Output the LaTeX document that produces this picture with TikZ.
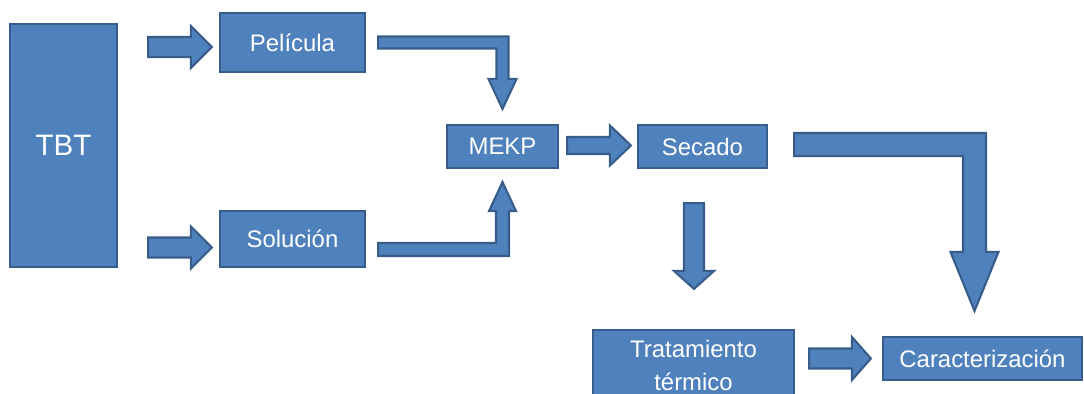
\documentclass[tikz,border=0pt]{standalone}
\usepackage{fontspec}
\setmainfont{Liberation Sans}
\usetikzlibrary{calc}

\definecolor{boxfill}{HTML}{4F81BD}
\definecolor{boxline}{HTML}{385D8A}

% straight block arrow: start, tip, shaft half width, head half width, head length (px)
\newcommand{\blockarrow}[5]{%
  \filldraw[barrow] let \p1=(#1), \p2=(#2),
      \n1={veclen(\x2-\x1,\y2-\y1)}, \n2={(\x2-\x1)/\n1}, \n3={(\y2-\y1)/\n1},
      \n4={#3*0.025cm}, \n5={#4*0.025cm}, \n6={#5*0.025cm} in
    ({\x1-\n3*\n4},{\y1+\n2*\n4}) --
    ({\x2-\n2*\n6-\n3*\n4},{\y2-\n3*\n6+\n2*\n4}) --
    ({\x2-\n2*\n6-\n3*\n5},{\y2-\n3*\n6+\n2*\n5}) --
    (\x2,\y2) --
    ({\x2-\n2*\n6+\n3*\n5},{\y2-\n3*\n6-\n2*\n5}) --
    ({\x2-\n2*\n6+\n3*\n4},{\y2-\n3*\n6-\n2*\n4}) --
    ({\x1+\n3*\n4},{\y1-\n2*\n4}) -- cycle;}

% bent block arrow: right from start, then up or down to tip
\newcommand{\bentarrow}[5]{%
  \filldraw[barrow] let \p1=(#1), \p2=(#2),
      \n1={sign(\y2-\y1)},
      \n4={#3*0.025cm}, \n5={#4*0.025cm}, \n6={#5*0.025cm} in
    (\x1,{\y1-\n1*\n4}) -- ({\x2+\n4},{\y1-\n1*\n4}) --
    ({\x2+\n4},{\y2-\n1*\n6}) -- ({\x2+\n5},{\y2-\n1*\n6}) --
    (\x2,\y2) --
    ({\x2-\n5},{\y2-\n1*\n6}) -- ({\x2-\n4},{\y2-\n1*\n6}) --
    ({\x2-\n4},{\y1+\n1*\n4}) -- (\x1,{\y1+\n1*\n4}) -- cycle;}

\begin{document}
\begin{tikzpicture}[x=0.025cm,y=-0.025cm,
    box/.style={draw=boxline,fill=boxfill,line width=1.5pt,text=white,
      inner sep=2pt,font=\fontsize{17}{23.5}\selectfont},
    barrow/.style={draw=boxline,fill=boxfill,line width=1.5pt,line join=miter}]
  \useasboundingbox (0,0) rectangle (1084,394);

  \node[box,minimum width=2.675cm,minimum height=6.075cm,
        font=\fontsize{21}{25}\selectfont] (tbt) at (63.5,145.5) {TBT};
  \node[box,minimum width=3.625cm,minimum height=1.475cm] (pel) at (292.5,42.5) {Película};
  \node[box,minimum width=3.625cm,minimum height=1.4cm] (sol) at (292.5,239) {Solución};
  \node[box,minimum width=2.775cm,minimum height=1.075cm] (mekp) at (502.5,146.5) {MEKP};
  \node[box,minimum width=3.225cm,minimum height=1.075cm] (sec) at (702.5,146.5) {Secado};
  \node[box,minimum width=5.025cm,minimum height=1.75cm,align=center]
        (trat) at (693.5,365) {Tratamiento\\térmico};
  \node[box,minimum width=4.975cm,minimum height=1.075cm] (car) at (982.5,358.5) {Caracterización};

  \blockarrow{$(tbt.east|-pel.west)+(30,4.5)$}{$(pel.west)+(-7,4.5)$}{10}{21}{21}
  \blockarrow{$(tbt.east|-sol.west)+(30,8.5)$}{$(sol.west)+(-7,8.5)$}{10}{21}{21}
  \bentarrow{$(pel.east)+(12,0)$}{$(mekp.north)+(0,-15)$}{6}{14}{30}
  \bentarrow{$(sol.east)+(12,10.5)$}{$(mekp.south)+(0,13)$}{6.5}{13.5}{29}
  \blockarrow{$(mekp.east)+(8,-1)$}{$(sec.west)+(-6,-1)$}{8.5}{20}{21}
  \blockarrow{$(sec.south)+(-8.5,34)$}{$(sec.south|-trat.north)+(-8.5,-40)$}{10}{20}{18}
  \bentarrow{$(sec.east)+(26,-2)$}{$(car.north)+(-8,-25)$}{11.5}{24}{59}
  \blockarrow{$(trat.east|-car.west)+(14,0)$}{$(car.west)+(-11,0)$}{10}{21.5}{19}
\end{tikzpicture}
\end{document}
